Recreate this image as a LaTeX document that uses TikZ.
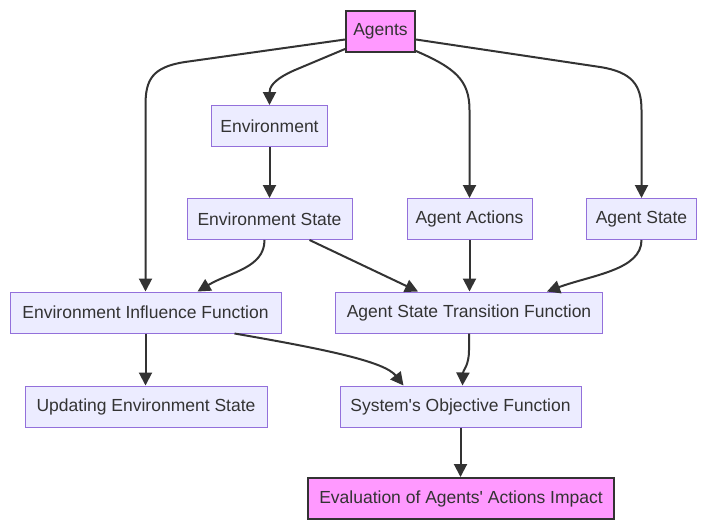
\documentclass[tikz,border=0pt]{standalone}
\usepackage{fontspec}
\setmainfont{Liberation Sans}
\usetikzlibrary{arrows.meta}
\definecolor{nodefill}{HTML}{ECECFF}
\definecolor{nodeline}{HTML}{9370DB}
\definecolor{pinkfill}{HTML}{FF99FF}
\definecolor{dark}{HTML}{333333}
\begin{document}
\begin{tikzpicture}[x=1pt,y=-1pt,
  box/.style={draw=nodeline, fill=nodefill, line width=1pt, minimum height=41pt, inner sep=0pt, text=dark, font=\fontsize{17.5}{20}\selectfont},
  hot/.style={box, draw=dark, fill=pinkfill, line width=2pt},
  arr/.style={draw=dark, line width=2pt, -{Triangle[length=13pt,width=13pt]}}]
\useasboundingbox (0,0) rectangle (701,523);
\fill[white] (0,0) rectangle (701,523);

\node[hot, minimum width=69pt] (ag) at (380.5,31.5) {Agents};
\node[box, minimum width=116pt] (env) at (269.5,126) {Environment};
\node[box, minimum width=165pt] (es) at (269.5,219) {Environment State};
\node[box, minimum width=125pt] (aa) at (469.5,219) {Agent Actions};
\node[box, minimum width=110pt] (as) at (641.5,219) {Agent State};
\node[box, minimum width=271pt] (eif) at (145.5,312.5) {Environment Influence Function};
\node[box, minimum width=267pt] (astf) at (469,312.5) {Agent State Transition Function};
\node[box, minimum width=242pt] (ues) at (146,406.5) {Updating Environment State};
\node[box, minimum width=241pt] (sof) at (460.5,406.5) {System\textquotesingle s Objective Function};
\node[hot, minimum width=306pt] (eval) at (461,498.5) {Evaluation of Agents\textquotesingle\ Actions Impact};

\draw[arr] ([yshift=4pt]ag.south west) -- (295,70) .. controls (272,80) and (269.5,88) .. (env.north);
\draw[arr] ([yshift=-8pt]ag.west) -- (185,62) .. controls (152,67) and (145.5,80) .. (145.5,105) -- (eif.north);
\draw[arr] ([yshift=2pt]ag.south east) .. controls (455,68) and (469.5,80) .. (469.5,110) -- (aa.north);
\draw[arr] ([yshift=-8pt]ag.east) -- (600,67) .. controls (632,72) and (641.5,85) .. (641.5,110) -- (as.north);
\draw[arr] (env.south) -- (es.north);
\draw[arr] ([xshift=-5pt]es.south) .. controls ([xshift=-5pt,yshift=-28pt]es.south) and (230,272) .. ([xshift=52pt]eif.north);
\draw[arr] ([xshift=40pt]es.south) -- ([xshift=-51pt]astf.north);
\draw[arr] (aa.south) -- (aa.south |- astf.north);
\draw[arr] (as.south) .. controls (641.5,270) and (592,275) .. ([xshift=78pt]astf.north);
\draw[arr] (eif.south) -- (eif.south |- ues.north);
\draw[arr] ([xshift=89pt]eif.south) .. controls (330,350) and (385,362) .. ([xshift=-57pt]sof.north);
\draw[arr] (astf.south) -- (469,350) .. controls (469,366) and (463,370) .. ([xshift=2pt]sof.north);
\draw[arr] (sof.south) -- (sof.south |- eval.north);
\end{tikzpicture}
\end{document}
